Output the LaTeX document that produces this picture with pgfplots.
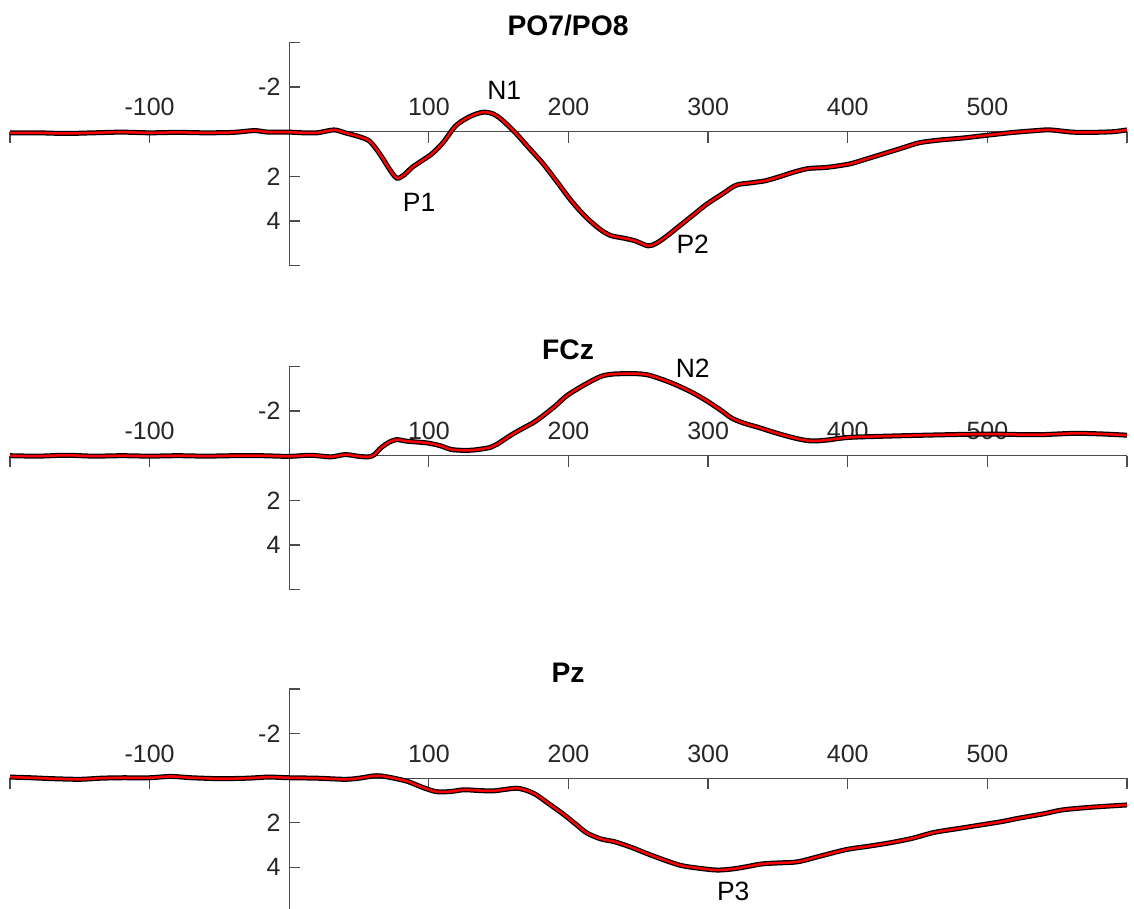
\documentclass[border=0pt]{standalone}
\usepackage{fontspec}
\setmainfont{Liberation Sans}
\usepackage{pgfplots}
\usepackage{pgfplotstable}
\pgfplotsset{compat=1.18}

\pgfplotstableread{
x y
-200 0.05
-180 0.05
-160 0.08
-140 0.05
-120 0.02
-100 0.05
-80 0.03
-60 0.05
-40 0.03
-25 -0.05
-15 0.02
0 0.02
10 0.05
20 0.05
32 -0.08
40 0.05
50 0.22
57 0.4
62 0.75
67 1.2
72 1.7
77 2.08
82 1.95
88 1.6
95 1.3
102 1.0
110 0.5
119 -0.25
127 -0.6
134 -0.8
140 -0.88
146 -0.8
152 -0.55
162 0.05
172 0.75
182 1.45
193 2.35
202 3.1
212 3.8
222 4.35
230 4.65
240 4.78
248 4.9
257 5.12
263 5.0
270 4.7
280 4.2
290 3.7
299 3.25
310 2.8
320 2.4
330 2.3
341 2.2
352 2.0
362 1.8
372 1.65
385 1.6
401 1.45
412 1.25
425 1.0
438 0.75
451 0.5
465 0.38
483 0.28
501 0.15
519 0.03
535 -0.05
545 -0.08
561 0.02
575 0.03
590 0.0
600 -0.08
}\poseight

\pgfplotstableread{
x y
-200 0.0
-180 0.02
-160 -0.02
-140 0.02
-120 0.0
-100 0.02
-80 0.0
-60 0.02
-40 0.0
-20 0.0
0 0.03
15 -0.02
30 0.05
40 -0.05
50 0.03
57 0.05
61 -0.05
66 -0.37
72 -0.62
77 -0.72
83 -0.66
90 -0.62
99 -0.57
108 -0.45
116 -0.28
125 -0.24
133 -0.26
144 -0.37
149 -0.52
160 -0.97
168 -1.25
177 -1.57
190 -2.2
199 -2.7
212 -3.2
223 -3.55
232 -3.66
247 -3.68
257 -3.62
268 -3.4
278 -3.15
289 -2.82
299 -2.46
310 -2.0
317 -1.68
326 -1.45
336 -1.27
347 -1.05
357 -0.87
367 -0.72
375 -0.66
385 -0.7
401 -0.82
430 -0.88
470 -0.94
501 -0.97
535 -0.94
561 -1.0
580 -0.98
600 -0.92
}\fcz

\pgfplotstableread{
x y
-200 -0.05
-185 -0.02
-170 0.02
-150 0.05
-135 0.0
-120 -0.02
-100 -0.02
-85 -0.08
-70 -0.02
-50 0.02
-30 0.0
-15 -0.05
0 -0.02
20 0.0
40 0.05
50 0.0
60 -0.1
66 -0.1
75 0.0
85 0.15
95 0.4
105 0.6
115 0.6
125 0.52
135 0.55
146 0.57
155 0.5
163 0.45
170 0.55
177 0.75
186 1.15
196 1.6
205 2.05
213 2.45
223 2.72
233 2.85
245 3.1
257 3.4
270 3.7
281 3.92
295 4.05
307 4.12
320 4.05
338 3.85
350 3.8
364 3.75
380 3.5
399 3.2
415 3.05
430 2.9
446 2.7
462 2.43
480 2.25
496 2.09
510 1.95
522 1.8
540 1.6
554 1.42
575 1.3
600 1.2
}\pz

\pgfplotsset{erp/.style={
  scale only axis, width=446.8pt, height=89.2pt,
  xmin=-200, xmax=600, ymin=-4, ymax=6, y dir=reverse,
  axis lines=middle,
  axis line style={-, draw=black!70, line width=0.5pt},
  tick style={draw=black!70, line width=0.5pt},
  major tick length=4.4pt, tick align=inside,
  xtick={-200,-100,0,100,200,300,400,500,600},
  xticklabels={,-100,,100,200,300,400,500,},
  ytick={-4,-2,0,2,4,6}, yticklabels={,-2,,2,4,},
  ticklabel style={font=\fontsize{10}{12}\selectfont, text=black!85},
  xticklabel style={anchor=south, yshift=2.8pt},
  clip=false, anchor=north west,
},
blk/.style={black, line width=2pt, smooth, tension=0.5},
rd/.style={red, line width=1pt, smooth, tension=0.5},
}
\tikzset{lab/.style={font=\fontsize{10.6}{12}\selectfont, anchor=center}}

\begin{document}
\begin{tikzpicture}
\begin{axis}[erp, at={(4pt,-17pt)}]
\addplot[blk] table[x=x,y=y] {\poseight};
\addplot[rd] table[x=x,y=y] {\poseight};
\node[lab] at (axis cs:154,-1.85) {N1};
\node[lab] at (axis cs:93,3.17) {P1};
\node[lab] at (axis cs:289,5.06) {P2};
\end{axis}
\begin{axis}[erp, at={(4pt,-146.6pt)}]
\addplot[blk] table[x=x,y=y] {\fcz};
\addplot[rd] table[x=x,y=y] {\fcz};
\node[lab] at (axis cs:289,-3.93) {N2};
\end{axis}
\begin{axis}[erp, at={(4pt,-275.6pt)}]
\addplot[blk] table[x=x,y=y] {\pz};
\addplot[rd] table[x=x,y=y] {\pz};
\node[lab] at (axis cs:318,5.06) {P3};
\end{axis}
\node[font=\bfseries\fontsize{11.3}{13}\selectfont, anchor=base] at (227.2pt,-14.4pt) {PO7/PO8};
\node[font=\bfseries\fontsize{11.3}{13}\selectfont, anchor=base] at (227.2pt,-143.8pt) {FCz};
\node[font=\bfseries\fontsize{11.3}{13}\selectfont, anchor=base] at (227.2pt,-273.2pt) {Pz};
\pgfresetboundingbox
\path (0,0) rectangle (453.6pt,-363.6pt);
\end{tikzpicture}
\end{document}
